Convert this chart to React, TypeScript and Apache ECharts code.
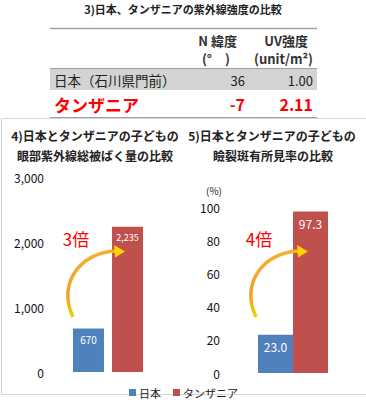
import React, { useEffect, useRef } from "react";
import * as echarts from "echarts";

const FONT = '"Noto Sans CJK JP", "Noto Sans", sans-serif';

// Table data
const tableTitle = "3)日本、タンザニアの紫外線強度の比較";
const tableHeaders1 = ["N 緯度", "UV強度"];
const tableHeaders2 = ["(°　)", "(unit/m²)"];
const tableRows = ["日本（石川県門前）", "タンザニア"];
const latitudes = ["36", "-7"];
const uvValues = ["1.00", "2.11"];

// Chart data
const seriesNames = ["日本", "タンザニア"];
const exposureValues = [670, 2235];
const exposureTicks = [0, 1000, 2000, 3000];
const pingueculaValues = [23.0, 97.3];
const pingueculaTicks = [0, 20, 40, 60, 80, 100];
const leftTitle = ["4)日本とタンザニアの子どもの", "眼部紫外線総被ばく量の比較"];
const rightTitle = ["5)日本とタンザニアの子どもの", "瞼裂斑有所見率の比較"];
const ratioLabels = ["3倍", "4倍"];

const BLUE = "#4f81bd";
const RED = "#c0504d";

function txt(x: number, y: number, text: string, o: any = {}) {
  return {
    type: "text",
    x,
    y,
    z: 100,
    silent: true,
    style: {
      text,
      fill: o.fill || "#222",
      fontSize: o.fontSize || 12,
      fontWeight: o.fontWeight || "normal",
      fontFamily: FONT,
      align: o.align || "left",
      verticalAlign: "middle",
    },
  };
}

function hline(x1: number, x2: number, y: number, stroke: string, w = 1) {
  return {
    type: "line",
    silent: true,
    shape: { x1, y1: y, x2, y2: y },
    style: { stroke, lineWidth: w },
  };
}

function arrow(dx: number) {
  const grad = {
    type: "linear",
    x: 0,
    y: 1,
    x2: 0,
    y2: 0,
    colorStops: [
      { offset: 0, color: "#e6d400" },
      { offset: 0.35, color: "#f0a030" },
      { offset: 1, color: "#f5b030" },
    ],
  };
  return [
    {
      type: "bezierCurve",
      silent: true,
      z: 100,
      shape: {
        x1: 73 + dx,
        y1: 317,
        cpx1: 57 + dx,
        cpy1: 284,
        cpx2: 80 + dx,
        cpy2: 252,
        x2: 116 + dx,
        y2: 251,
      },
      style: { stroke: grad, lineWidth: 3.5, fill: null },
    },
    {
      type: "polygon",
      silent: true,
      z: 101,
      shape: {
        points: [
          [114 + dx, 245],
          [125 + dx, 251.5],
          [115 + dx, 257.5],
        ],
      },
      style: { fill: "#ffd200" },
    },
  ];
}

export default function App() {
  const ref = useRef<HTMLDivElement>(null);
  useEffect(() => {
    if (!ref.current) return;
    const chart = echarts.init(ref.current, null, { renderer: "svg" });

    const graphics: any[] = [
      // panel border
      {
        type: "rect",
        silent: true,
        shape: { x: 1.5, y: 118.5, width: 372, height: 276 },
        style: { fill: null, stroke: "#d4d4d4", lineWidth: 1 },
      },
      // table
      txt(183, 9, tableTitle, { fontSize: 11, fontWeight: "bold", align: "center", fill: "#222" }),
      {
        type: "rect",
        silent: true,
        shape: { x: 50, y: 69, width: 267, height: 21 },
        style: { fill: "#d3d3d3" },
      },
      hline(50, 317, 28.5, "#a0a0a0", 1.5),
      hline(50, 317, 68.5, "#a0a0a0", 1),
      hline(50, 317, 117.5, "#a0a0a0", 1),
      txt(237, 40, tableHeaders1[0], { fontSize: 13, fontWeight: "bold", align: "right", fill: "#333" }),
      txt(308, 40, tableHeaders1[1], { fontSize: 13, fontWeight: "bold", align: "right", fill: "#333" }),
      txt(230, 58, tableHeaders2[0], { fontSize: 13, fontWeight: "bold", align: "right", fill: "#333" }),
      txt(313, 58, tableHeaders2[1], { fontSize: 13, fontWeight: "bold", align: "right", fill: "#333" }),
      txt(54, 80, tableRows[0], { fontSize: 13.5, fill: "#222" }),
      txt(245, 80, latitudes[0], { fontSize: 13, align: "right", fill: "#222" }),
      txt(313, 80, uvValues[0], { fontSize: 13, align: "right", fill: "#222" }),
      txt(54, 104, tableRows[1], { fontSize: 17, fontWeight: "bold", fill: "#ff0000" }),
      txt(245, 104, latitudes[1], { fontSize: 16, fontWeight: "bold", align: "right", fill: "#ff0000" }),
      txt(313, 104, uvValues[1], { fontSize: 16, fontWeight: "bold", align: "right", fill: "#ff0000" }),
      // chart titles
      txt(95, 135, leftTitle[0], { fontSize: 12, fontWeight: "bold", align: "center" }),
      txt(95, 155, leftTitle[1], { fontSize: 12, fontWeight: "bold", align: "center" }),
      txt(272, 135, rightTitle[0], { fontSize: 12, fontWeight: "bold", align: "center" }),
      txt(273, 155, rightTitle[1], { fontSize: 12, fontWeight: "bold", align: "center" }),
      txt(214, 190, "(%)", { fontSize: 10, align: "center" }),
      // arrows
      ...arrow(0),
      ...arrow(183),
      txt(76, 238, ratioLabels[0], { fontSize: 17, fill: "#ff0000", align: "center" }),
      txt(259, 238, ratioLabels[1], { fontSize: 17, fill: "#ff0000", align: "center" }),
    ];

    const yAxisCommon = {
      type: "value",
      axisLine: { show: false },
      axisTick: { show: false },
      splitLine: { show: false },
    };

    chart.setOption({
      animation: false,
      textStyle: { fontFamily: FONT },
      legend: {
        data: seriesNames,
        left: 124,
        top: 382,
        itemWidth: 7,
        itemHeight: 7,
        itemGap: 12,
        icon: "rect",
        textStyle: { fontSize: 11, color: "#222", fontFamily: FONT, padding: [0, 0, 0, -2] },
        selectedMode: false,
      },
      grid: [
        { left: 50, top: 177, width: 116, height: 195 },
        { left: 228, top: 207, width: 130, height: 166 },
      ],
      xAxis: [
        { type: "category", gridIndex: 0, data: [""], show: false },
        { type: "category", gridIndex: 1, data: [""], show: false },
      ],
      yAxis: [
        {
          ...yAxisCommon,
          gridIndex: 0,
          min: exposureTicks[0],
          max: exposureTicks[exposureTicks.length - 1],
          interval: 1000,
          axisLabel: {
            margin: 6,
            fontSize: 12,
            color: "#111",
            fontFamily: FONT,
            formatter: (v: number) => v.toLocaleString("en-US"),
          },
        },
        {
          ...yAxisCommon,
          gridIndex: 1,
          min: pingueculaTicks[0],
          max: pingueculaTicks[pingueculaTicks.length - 1],
          interval: 20,
          axisLabel: { margin: 8, fontSize: 12, color: "#111", fontFamily: FONT },
        },
      ],
      series: [
        {
          name: seriesNames[0],
          type: "bar",
          xAxisIndex: 0,
          yAxisIndex: 0,
          data: [exposureValues[0]],
          barWidth: 31,
          barGap: "26%",
          itemStyle: { color: BLUE },
          label: {
            show: true,
            position: "insideTop",
            distance: 6,
            color: "#fff",
            fontSize: 10,
            fontFamily: FONT,
          },
        },
        {
          name: seriesNames[1],
          type: "bar",
          xAxisIndex: 0,
          yAxisIndex: 0,
          data: [exposureValues[1]],
          barWidth: 31,
          barGap: "26%",
          itemStyle: { color: RED },
          label: {
            show: true,
            position: "insideTop",
            distance: 6,
            color: "#fff",
            fontSize: 9,
            fontFamily: FONT,
            formatter: (p: any) => Number(p.value).toLocaleString("en-US"),
          },
        },
        {
          name: seriesNames[0],
          type: "bar",
          xAxisIndex: 1,
          yAxisIndex: 1,
          data: [pingueculaValues[0]],
          barWidth: 35,
          barGap: "0%",
          itemStyle: { color: BLUE },
          label: {
            show: true,
            position: "insideTop",
            distance: 6,
            color: "#fff",
            fontSize: 12,
            fontFamily: FONT,
            formatter: (p: any) => Number(p.value).toFixed(1),
          },
        },
        {
          name: seriesNames[1],
          type: "bar",
          xAxisIndex: 1,
          yAxisIndex: 1,
          data: [pingueculaValues[1]],
          barWidth: 35,
          barGap: "0%",
          itemStyle: { color: RED },
          label: {
            show: true,
            position: "insideTop",
            distance: 6,
            color: "#fff",
            fontSize: 12,
            fontFamily: FONT,
            formatter: (p: any) => Number(p.value).toFixed(1),
          },
        },
      ],
      graphic: graphics,
    });
    return () => chart.dispose();
  }, []);

  return (
    <div
      ref={ref}
      style={{ position: "absolute", left: 0, top: 0, width: 366, height: 400, background: "#fff" }}
    />
  );
}
